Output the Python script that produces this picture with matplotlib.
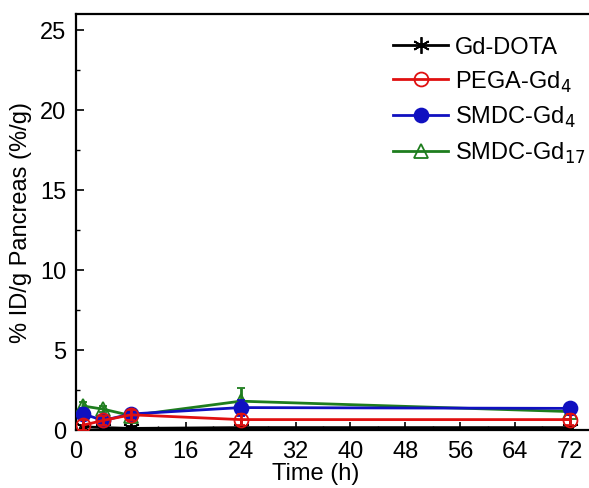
import matplotlib
matplotlib.use("Agg")
import matplotlib.pyplot as plt
from matplotlib.ticker import MultipleLocator
from matplotlib.lines import Line2D

plt.rcParams['font.family'] = ['Liberation Sans', 'DejaVu Sans']

# time points (h)
time = [1, 4, 8, 24, 72]

# % ID/g pancreas
gd_dota = [0.2, 0.15, 0.1, 0.15, 0.15]
gd_dota_err = [0.1, 0.1, 0.15, 0.1, 0.1]
pega_gd4 = [0.3, 0.6, 0.95, 0.65, 0.65]
pega_gd4_err = [0.3, 0.3, 0.3, 0.35, 0.35]
smdc_gd4 = [1.0, 0.6, 1.0, 1.4, 1.35]
smdc_gd4_err = [0.4, 0.3, 0.2, 0.5, 0.15]
smdc_gd17 = [1.5, 1.3, 0.9, 1.8, 1.15]
smdc_gd17_err = [0.25, 0.2, 0.2, 0.8, 0.2]

labels = ["Gd-DOTA", r"PEGA-Gd$_4$", r"SMDC-Gd$_4$", r"SMDC-Gd$_{17}$"]
colors = ['black', '#e01010', '#1010c0', '#1e7d1e']

fig = plt.figure(figsize=(5.89, 4.89), dpi=100)
ax = fig.add_axes([76/589, 58/489, 76*6.86/589, (431-14.7)/489])

styles = [
    dict(marker=(6, 2, 0), markersize=12, markerfacecolor='black'),
    dict(marker='o', markersize=10, markerfacecolor='none'),
    dict(marker='o', markersize=10),
    dict(marker='^', markersize=10, markerfacecolor='none'),
]
series = [(gd_dota, gd_dota_err), (pega_gd4, pega_gd4_err),
          (smdc_gd4, smdc_gd4_err), (smdc_gd17, smdc_gd17_err)]
zorders = [3, 6, 5, 4]

for (y, e), c, st, z in zip(series, colors, styles, zorders):
    ax.errorbar(time, y, yerr=e, color=c, lw=2, capsize=3, zorder=z,
                markeredgewidth=1.3, **st)

ax.set_xlim(0, 76)
ax.set_ylim(0, 26)
ax.xaxis.set_major_locator(MultipleLocator(8))
ax.xaxis.set_minor_locator(MultipleLocator(4))
ax.yaxis.set_major_locator(MultipleLocator(5))
ax.yaxis.set_minor_locator(MultipleLocator(2.5))
ax.tick_params(which='both', direction='in', top=False, right=False, labelsize=17)
ax.tick_params(which='major', length=6, width=1.2, pad=7)
ax.tick_params(which='minor', length=3, width=1)
for s in ax.spines.values():
    s.set_linewidth(1.6)

ax.set_xlabel("Time (h)", fontsize=17)
ax.xaxis.set_label_coords(0.459, -0.077)
ax.set_ylabel("% ID/g Pancreas (%/g)", fontsize=17, labelpad=6)

handles = [Line2D([], [], color=c, lw=2, markeredgewidth=1.3, **st)
           for c, st in zip(colors, styles)]
ax.legend(handles, labels, loc='upper left', bbox_to_anchor=(0.568, 0.998),
          frameon=False, fontsize=17, handlelength=2.3, labelspacing=0.45,
          handletextpad=0.3)

fig.savefig("out.png", dpi=100)
